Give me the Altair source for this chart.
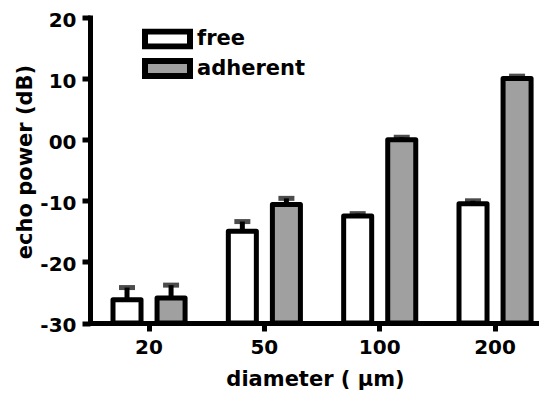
import altair as alt
import pandas as pd

diameters = ["20", "50", "100", "200"]
groups = ["free", "adherent"]
free_mean = [-26.2, -15.0, -12.5, -10.5]
free_upper = [-24.2, -13.4, -12.1, -10.0]
adherent_mean = [-25.9, -10.6, 0.0, 10.0]
adherent_upper = [-23.8, -9.6, 0.4, 10.4]
y_ticks = [-30, -20, -10, 0, 10, 20]
fill_colors = ["white", "#a0a0a0"]

rows = []
for i, d in enumerate(diameters):
    rows.append({"diameter": d, "group": "free", "mean": free_mean[i], "upper": free_upper[i]})
    rows.append({"diameter": d, "group": "adherent", "mean": adherent_mean[i], "upper": adherent_upper[i]})
df = pd.DataFrame(rows)

FONT = "DejaVu Sans"

x_axis = alt.Axis(
    title="diameter ( μm)", labelAngle=0, tickSize=8, labelPadding=6,
    titleX=225, titleY=45,
)
y_axis = alt.Axis(
    title="echo power (dB)", values=y_ticks, tickSize=8, labelPadding=6,
    labelOffset=2.5,
    labelExpr="datum.value == 0 ? '00' : '' + datum.value",
    titleX=-55, titleY=144,
)
x_scale = alt.Scale(paddingInner=0.375, paddingOuter=0.134, align=0.744)
y_scale = alt.Scale(domain=[-30, 20], nice=False, zero=False)
xo = alt.XOffset("group:N", sort=groups, scale=alt.Scale(paddingInner=0.364, paddingOuter=0))

def X():
    return alt.X("diameter:N", sort=diameters, scale=x_scale, axis=x_axis)

bars = alt.Chart(df).mark_bar(stroke="black", strokeWidth=5, strokeJoin="round").encode(
    x=X(),
    xOffset=xo,
    y=alt.Y("mean:Q", scale=y_scale, axis=y_axis),
    y2=alt.datum(-30),
    fill=alt.Fill(
        "group:N", sort=groups,
        scale=alt.Scale(domain=groups, range=fill_colors),
        legend=alt.Legend(
            orient="none", legendX=52, legendY=11, title=None,
            symbolType="M-1,-0.333H1V0.333H-1Z", symbolSize=2025,
            symbolStrokeColor="black", symbolStrokeWidth=6,
            labelFont=FONT, labelFontWeight="bold", labelFontSize=21,
            labelColor="black", labelOffset=4, rowPadding=7.5,
            clipHeight=21, padding=0,
        ),
    ),
)

rules = alt.Chart(df).mark_rule(color="black", strokeWidth=5).encode(
    x=X(),
    xOffset=xo,
    y=alt.Y("mean:Q", scale=y_scale, axis=y_axis),
    y2="upper:Q",
)

caps = alt.Chart(df).mark_tick(color="black", size=16, thickness=5).encode(
    x=X(),
    xOffset=xo,
    y=alt.Y("upper:Q", scale=y_scale, axis=y_axis),
)

chart = alt.layer(bars, rules, caps).properties(
    width=449, height=305.5,
    autosize=alt.AutoSizeParams(type="none"),
    padding={"left": 82, "top": 9.5, "right": 0, "bottom": 75},
).configure_axis(
    domainColor="black", domainWidth=5, domainCap="square",
    tickColor="black", tickWidth=5, grid=False,
    labelFont=FONT, labelFontWeight="bold", labelFontSize=20, labelColor="black",
    titleFont=FONT, titleFontWeight="bold", titleFontSize=21, titleColor="black",
).configure_view(stroke=None)

chart.save("out.html", embed_options={"renderer": "svg", "actions": False})
